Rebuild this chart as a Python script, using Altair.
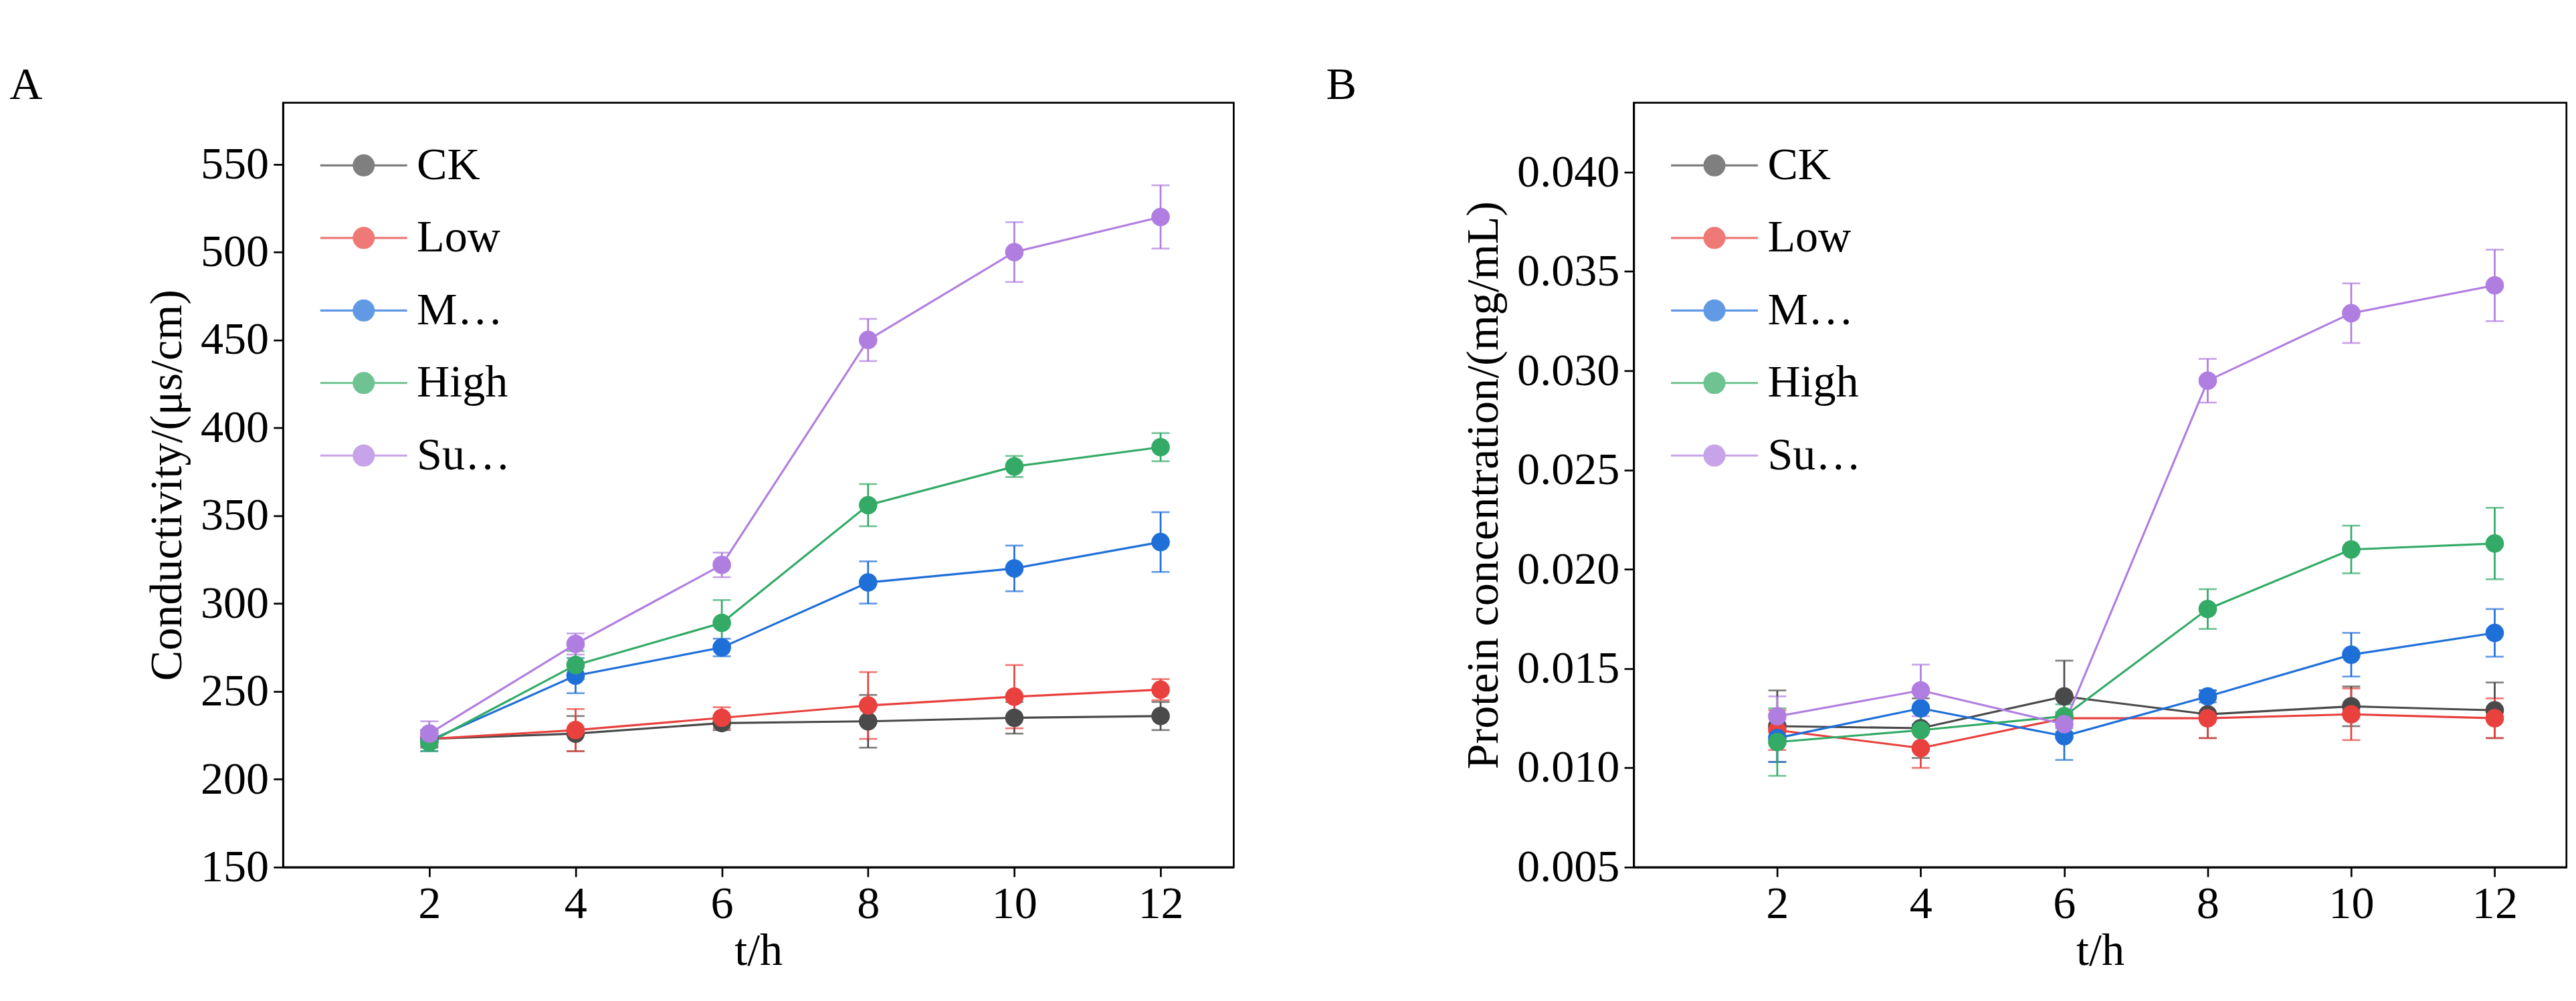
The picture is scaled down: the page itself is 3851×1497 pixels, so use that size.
import altair as alt
import pandas as pd

hours = [2, 4, 6, 8, 10, 12]
groups = ["CK", "Low", "Middle", "High", "Super"]
colors = ["#4a4a4a", "#e8413e", "#1f6fd9", "#33aa66", "#b07ee0"]

cond_mean = {
    "CK": [223, 226, 232, 233, 235, 236],
    "Low": [223, 228, 235, 242, 247, 251],
    "Middle": [222, 259, 275, 312, 320, 335],
    "High": [221, 265, 289, 356, 378, 389],
    "Super": [226, 277, 322, 450, 500, 520],
}
cond_err = {
    "CK": [5, 10, 4, 15, 9, 8],
    "Low": [4, 12, 6, 19, 18, 6],
    "Middle": [6, 10, 5, 12, 13, 17],
    "High": [5, 8, 13, 12, 6, 8],
    "Super": [7, 6, 7, 12, 17, 18],
}
prot_mean = {
    "CK": [0.0121, 0.0120, 0.0136, 0.0127, 0.0131, 0.0129],
    "Low": [0.0119, 0.0110, 0.0125, 0.0125, 0.0127, 0.0125],
    "Middle": [0.0115, 0.0130, 0.0116, 0.0136, 0.0157, 0.0168],
    "High": [0.0113, 0.0119, 0.0126, 0.0180, 0.0210, 0.0213],
    "Super": [0.0126, 0.0139, 0.0122, 0.0295, 0.0329, 0.0343],
}
prot_err = {
    "CK": [0.0018, 0.0015, 0.0018, 0.0012, 0.0010, 0.0014],
    "Low": [0.0010, 0.0010, 0.0010, 0.0010, 0.0013, 0.0010],
    "Middle": [0.0012, 0.0008, 0.0012, 0.0003, 0.0011, 0.0012],
    "High": [0.0017, 0.0010, 0.0006, 0.0010, 0.0012, 0.0018],
    "Super": [0.0010, 0.0013, 0.0006, 0.0011, 0.0015, 0.0018],
}

FONT = "Liberation Serif"
FS = 76
SYM = "M-1,0L-0.23,0M0.23,0L1,0M-0.23,0a0.23,0.23 0 1,0 0.46,0a0.23,0.23 0 1,0 -0.46,0"


def frame(mean, err):
    rows = []
    for g in groups:
        for h, m, e in zip(hours, mean[g], err[g]):
            rows.append({"h": h, "g": g, "m": m, "lo": m - e, "hi": m + e})
    return pd.DataFrame(rows)


def axis(values, fmt, title, pad):
    return alt.Axis(values=values, format=fmt, title=title, titleFontWeight="normal",
                    titleFontSize=FS, titleFont=FONT, labelFontSize=FS, labelFont=FONT,
                    tickSize=16, tickWidth=3, domainWidth=3, domainColor="black",
                    tickColor="black", labelColor="black", titleColor="black",
                    grid=False, titlePadding=pad, labelPadding=8)


def panel(df, ytitle, ydom, yvals, fmt, label, w):
    legend = alt.Legend(title=None, orient="none", legendX=60, legendY=30,
                        symbolType=SYM, symbolSize=21000, symbolStrokeWidth=3.5,
                        labelFontSize=FS, labelFont=FONT, rowPadding=8,
                        labelOffset=14, labelColor="black")
    color = alt.Color("g:N", scale=alt.Scale(domain=groups, range=colors),
                      sort=groups, legend=legend)
    x = alt.X("h:Q", scale=alt.Scale(domain=[1, 13], nice=False),
              axis=axis(hours, "d", "t/h", 4))
    y = alt.Y("m:Q", scale=alt.Scale(domain=ydom, nice=False, zero=False),
              axis=axis(yvals, fmt, ytitle, 16))
    base = alt.Chart(df)
    eb = base.mark_errorbar(ticks=alt.TickConfig(size=30, thickness=3), thickness=3).encode(
        x=alt.X("h:Q"), y=alt.Y("lo:Q", title=ytitle), y2="hi:Q", color=color)
    line = base.mark_line(strokeWidth=3.5).encode(x=x, y=y, color=color)
    pts = base.mark_circle(size=950, opacity=1).encode(x=x, y=y, color=color)
    return alt.layer(eb, line, pts).properties(
        width=w, height=1275,
        title=alt.TitleParams(label, anchor="start", font=FONT, fontSize=FS,
                              fontWeight="normal", dx=-225, offset=-10, color="black"))


a = panel(frame(cond_mean, cond_err), "Conductivity/(μs/cm)", [150, 585],
          list(range(150, 551, 50)), "d", "A", 1585)
b = panel(frame(prot_mean, prot_err), "Protein concentration/(mg/mL)", [0.005, 0.0435],
          [0.005 + 0.005 * i for i in range(8)], ".3f", "B", 1555)

chart = alt.hconcat(a, b, spacing=150).resolve_scale(color="independent").configure(
    background="white").configure_view(stroke="black", strokeWidth=3)

chart.save("out.html", embed_options={"renderer": "svg", "actions": False})
